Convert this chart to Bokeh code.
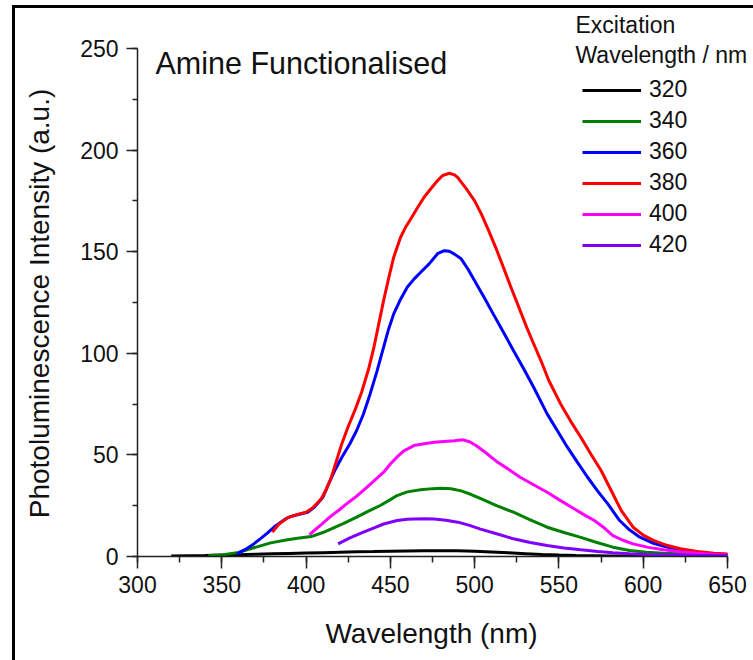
from bokeh.plotting import figure
from bokeh.models import Range1d, SingleIntervalTicker, Legend, LegendItem, Label
from bokeh.embed import file_html
from bokeh.resources import INLINE

FONT = "Liberation Sans"

# Excitation wavelengths (nm)
excitation = ["320", "340", "360", "380", "400", "420"]
colors = ["#000000", "#008000", "#0000ff", "#ff0000", "#ff00ff", "#8000ff"]

wl_320 = [320, 330, 340, 350, 360, 370, 380, 390, 400, 410, 420, 430, 440, 450, 460, 470, 480,
          490, 500, 510, 520, 530, 540, 550, 560, 570, 580, 590, 600, 620, 650]
pl_320 = [0.3, 0.4, 0.5, 0.7, 0.9, 1.1, 1.3, 1.5, 1.7, 1.9, 2.1, 2.3, 2.4, 2.6, 2.7, 2.8, 2.8,
          2.8, 2.6, 2.2, 1.8, 1.4, 1.0, 0.7, 0.5, 0.4, 0.3, 0.25, 0.2, 0.1, 0.1]

wl_340 = [342, 350, 359, 367, 379, 389, 395, 403, 410, 415, 422, 430, 437, 444, 450, 454, 460,
          468, 475, 480, 486, 492, 498, 504, 513, 523, 533, 543, 553, 563, 572, 582, 592, 602,
          612, 622, 635, 650]
pl_340 = [0.5, 0.8, 1.8, 3.8, 6.7, 8.2, 9.0, 9.8, 11.8, 13.6, 16.2, 19.4, 22.3, 25.1, 28.0,
          30.0, 31.8, 32.8, 33.4, 33.6, 33.3, 32.3, 30.5, 28.3, 25.0, 21.8, 18.0, 14.4, 11.8,
          9.4, 7.0, 4.6, 3.0, 2.1, 1.6, 1.3, 0.8, 0.5]

wl_360 = [359, 364, 369, 373, 377, 381, 385, 388, 391, 396, 401, 405, 410, 413, 417, 421, 426,
          430, 434, 438, 442, 446, 449, 452, 456, 460, 464, 468, 473, 478, 482, 485, 488, 492,
          496, 501, 506, 511, 517, 523, 529, 535, 543, 549, 555, 561, 567, 573, 579, 586, 592,
          598, 606, 614, 622, 632, 641, 650]
pl_360 = [1.3, 3.5, 6.2, 8.8, 11.5, 14.5, 16.9, 18.6, 19.7, 20.8, 21.8, 24.3, 29.2, 35.0, 42.3,
          48.5, 55.5, 62.0, 70.0, 80.0, 91.0, 103.0, 112.0, 119.4, 126.5, 132.5, 136.5, 139.9,
          144.0, 149.0, 150.5, 150.2, 148.8, 146.5, 141.5, 134.2, 127.0, 119.4, 110.5, 101.4,
          92.5, 83.3, 70.2, 62.0, 53.8, 46.3, 39.0, 32.2, 25.9, 17.7, 13.0, 9.5, 6.5, 4.6, 3.2,
          2.1, 1.4, 1.0]

wl_380 = [380, 384, 389, 394, 400, 404, 409, 412, 415, 418, 421, 425, 429, 433, 437, 440, 443,
          446, 449, 452, 456, 459, 462, 466, 470, 474, 478, 481, 485, 488, 490, 495, 500, 504,
          508, 513, 517, 522, 527, 531, 535, 540, 544, 551, 557, 563, 569, 575, 581, 587, 594,
          600, 606, 614, 622, 632, 642, 650]
pl_380 = [12.0, 16.0, 19.0, 20.5, 21.8, 24.0, 28.4, 33.0, 39.0, 47.0, 55.0, 64.0, 72.0, 81.0,
          92.0, 102.0, 114.0, 126.0, 137.0, 147.3, 157.0, 162.0, 166.0, 171.5, 176.8, 181.0,
          185.0, 187.5, 188.6, 187.8, 186.5, 181.0, 175.0, 168.5, 161.0, 151.0, 142.4, 131.5,
          121.0, 112.5, 104.7, 95.0, 86.6, 75.1, 66.5, 58.7, 50.3, 42.3, 32.5, 22.6, 14.4, 10.5,
          7.9, 5.5, 3.8, 2.5, 1.6, 1.2]

wl_400 = [402, 408, 414, 419, 424, 429, 434, 440, 446, 450, 454, 458, 464, 470, 476, 482, 488,
          493, 497, 501, 507, 513, 520, 527, 535, 543, 551, 559, 565, 571, 577, 582, 588, 594,
          603, 612, 622, 632, 641, 650]
pl_400 = [10.8, 15.0, 19.4, 22.5, 25.9, 29.0, 32.5, 37.0, 41.5, 45.5, 49.0, 52.0, 54.6, 55.5,
          56.2, 56.6, 57.0, 57.4, 56.5, 54.5, 50.8, 46.8, 43.0, 39.0, 35.3, 31.6, 27.5, 23.5,
          20.5, 17.7, 14.0, 10.3, 8.0, 6.2, 4.5, 3.3, 2.3, 1.6, 1.1, 0.8]

wl_420 = [419, 426, 434, 440, 446, 454, 460, 464, 470, 476, 483, 490, 497, 503, 513, 523, 533,
          543, 553, 563, 573, 582, 592, 602, 615, 630, 650]
pl_420 = [6.2, 9.2, 12.0, 14.0, 16.0, 17.7, 18.3, 18.5, 18.6, 18.5, 17.8, 16.9, 15.3, 13.6,
          11.2, 8.7, 6.9, 5.4, 4.2, 3.3, 2.5, 1.8, 1.3, 1.0, 0.8, 0.6, 0.5]

series = [(wl_320, pl_320), (wl_340, pl_340), (wl_360, pl_360),
          (wl_380, pl_380), (wl_400, pl_400), (wl_420, pl_420)]

x_min, x_max = 300, 650
y_min, y_max = 0, 250
tick_interval = 50

# axes box is 590 x 508 px; the drawing frame reaches further right and up so the
# legend header (which sits outside the axes box in the original) is not clipped
AX_W, AX_H = 590, 508
EXTRA_R, EXTRA_T = 26, 40
x_end = x_max + EXTRA_R * (x_max - x_min) / AX_W
y_end = y_max + EXTRA_T * (y_max - y_min) / AX_H

p = figure(frame_width=AX_W + EXTRA_R, frame_height=AX_H + EXTRA_T,
           x_range=Range1d(x_min, x_end), y_range=Range1d(y_min, y_end),
           output_backend="svg", toolbar_location=None,
           min_border_left=122, min_border_right=0, min_border_top=0,
           min_border_bottom=104)
p.styles = {"margin-left": "12px", "margin-top": "5px",
            "border-left": "3px solid black", "border-top": "3px solid black"}
p.background_fill_color = "white"
p.border_fill_color = "white"
p.outline_line_color = None
p.grid.visible = False

p.xaxis.ticker = SingleIntervalTicker(interval=tick_interval, num_minor_ticks=2)
p.yaxis.ticker = SingleIntervalTicker(interval=tick_interval, num_minor_ticks=2)
p.xaxis.bounds = (x_min, x_max)
p.yaxis.bounds = (y_min, y_max)

for ax, tout, mout, stand in ((p.xaxis, 12, 6, 7), (p.yaxis, 11, 5, 8)):
    ax.axis_line_width = 1.5
    ax.axis_line_color = "#222222"
    ax.major_tick_line_width = 1.5
    ax.minor_tick_line_width = 1.5
    ax.major_tick_line_color = "#222222"
    ax.minor_tick_line_color = "#222222"
    ax.major_tick_out = tout
    ax.major_tick_in = 0
    ax.minor_tick_out = mout
    ax.minor_tick_in = 0
    ax.major_label_text_font = FONT
    ax.major_label_text_font_size = "23px"
    ax.major_label_text_color = "#111111"
    ax.major_label_standoff = stand
    ax.axis_label_text_font = FONT
    ax.axis_label_text_font_size = "28px"
    ax.axis_label_text_font_style = "normal"
    ax.axis_label_text_color = "#111111"

# axis labels are centred on the (larger) frame; en-spaces re-centre them on the axes box
p.xaxis.axis_label = "Wavelength (nm)" + "\u2002" * 2
p.yaxis.axis_label = "Photoluminescence Intensity (a.u.)" + "\u2002" * 3
p.xaxis.axis_label_standoff = 22
p.yaxis.axis_label_standoff = 22

items = []
for name, col, (xs, ys) in zip(excitation, colors, series):
    r = p.line(xs, ys, line_color=col, line_width=3)
    items.append(LegendItem(label=name, renderers=[r]))

legend = Legend(items=items, location=(445, 298), glyph_width=59, glyph_height=26,
                label_height=26, spacing=4, label_standoff=8, padding=0, margin=0,
                border_line_color=None, background_fill_alpha=0,
                label_text_font=FONT, label_text_font_size="23px",
                label_text_color="#111111")
p.add_layout(legend, "center")

title = Label(x=18, y=494, x_units="screen", y_units="screen",
              text="Amine Functionalised", text_font=FONT, text_font_size="30.5px",
              text_color="#111111", text_baseline="alphabetic")
p.add_layout(title)

leg_t1 = Label(x=438, y=532, x_units="screen", y_units="screen", text="Excitation",
               text_font=FONT, text_font_size="23px", text_color="#111111",
               text_baseline="alphabetic")
leg_t2 = Label(x=438, y=502, x_units="screen", y_units="screen", text="Wavelength / nm",
               text_font=FONT, text_font_size="23px", text_color="#111111",
               text_baseline="alphabetic")
p.add_layout(leg_t1)
p.add_layout(leg_t2)

open("out.html", "w").write(file_html(p, INLINE))
